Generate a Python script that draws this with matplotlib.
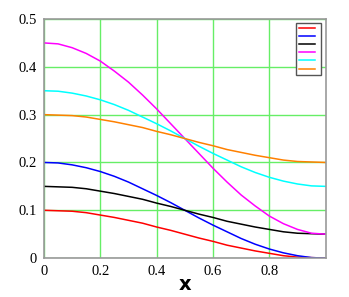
import matplotlib
matplotlib.use('Agg')
import matplotlib.pyplot as plt
import numpy as np

x = [0.0, 0.05, 0.1, 0.15, 0.2, 0.25, 0.3, 0.35, 0.4, 0.45, 0.5,
     0.55, 0.6, 0.65, 0.7, 0.75, 0.8, 0.85, 0.9, 0.95, 1.0]

red = [0.100, 0.099, 0.098, 0.095, 0.090, 0.085, 0.079, 0.073, 0.065, 0.058, 0.050,
       0.042, 0.035, 0.027, 0.021, 0.015, 0.010, 0.005, 0.002, 0.001, 0.000]
blue = [0.200, 0.199, 0.195, 0.189, 0.181, 0.171, 0.159, 0.145, 0.131, 0.116, 0.100,
        0.084, 0.069, 0.055, 0.041, 0.029, 0.019, 0.011, 0.005, 0.001, 0.000]
black = [0.150, 0.149, 0.148, 0.145, 0.140, 0.135, 0.129, 0.123, 0.115, 0.108, 0.100,
         0.092, 0.085, 0.077, 0.071, 0.065, 0.060, 0.055, 0.052, 0.051, 0.050]
magenta = [0.450, 0.448, 0.440, 0.428, 0.412, 0.391, 0.368, 0.341, 0.312, 0.281, 0.250,
           0.219, 0.188, 0.159, 0.132, 0.109, 0.088, 0.072, 0.060, 0.052, 0.050]
cyan = [0.350, 0.349, 0.345, 0.339, 0.331, 0.321, 0.309, 0.295, 0.281, 0.266, 0.250,
        0.234, 0.219, 0.205, 0.191, 0.179, 0.169, 0.161, 0.155, 0.151, 0.150]
orange = [0.300, 0.299, 0.298, 0.295, 0.290, 0.285, 0.279, 0.273, 0.265, 0.258, 0.250,
          0.242, 0.235, 0.227, 0.221, 0.215, 0.210, 0.205, 0.202, 0.201, 0.200]

series = [red, blue, black, magenta, cyan, orange]
colors = ['#ff0000', '#0000ff', '#000000', '#ff00ff', '#00ffff', '#ff8000']

xticks = [0, 0.2, 0.4, 0.6, 0.8]
xticklabels = ['0', '0.2', '0.4', '0.6', '0.8']
yticks = [0, 0.1, 0.2, 0.3, 0.4, 0.5]
yticklabels = ['0', '0.1', '0.2', '0.3', '0.4', '0.5']

fig = plt.figure(figsize=(3.49, 2.97), dpi=100)
ax = fig.add_axes([0.126, 0.131, 0.807, 0.805])

lines = []
for y, c in zip(series, colors):
    l, = ax.plot(x, y, color=c, lw=1.1)
    lines.append(l)

ax.set_xlim(0, 1)
ax.set_ylim(0, 0.5)
ax.set_xticks(xticks)
ax.set_xticklabels(xticklabels, fontfamily='Liberation Serif', fontsize=10.5)
ax.set_yticks(yticks)
ax.set_yticklabels(yticklabels, fontfamily='Liberation Serif', fontsize=10.5)
ax.tick_params(length=0, pad=5)
ax.grid(True, color='#66ee66', lw=1)
ax.set_axisbelow(True)
for s in ax.spines.values():
    s.set_color('#999999')
    s.set_linewidth(1.2)

ax.set_xlabel('x', fontweight='bold', fontsize=14, labelpad=-2)

leg = ax.legend(lines, [''] * 6, loc='upper right', bbox_to_anchor=(0.983, 0.985),
                handlelength=2.5, handletextpad=0.4, labelspacing=0.32,
                fontsize=4.8, borderpad=0.4, fancybox=False, framealpha=1,
                borderaxespad=0)
leg.get_frame().set_edgecolor('#555555')
leg.get_frame().set_linewidth(1)

plt.savefig('out.png', dpi=100)
